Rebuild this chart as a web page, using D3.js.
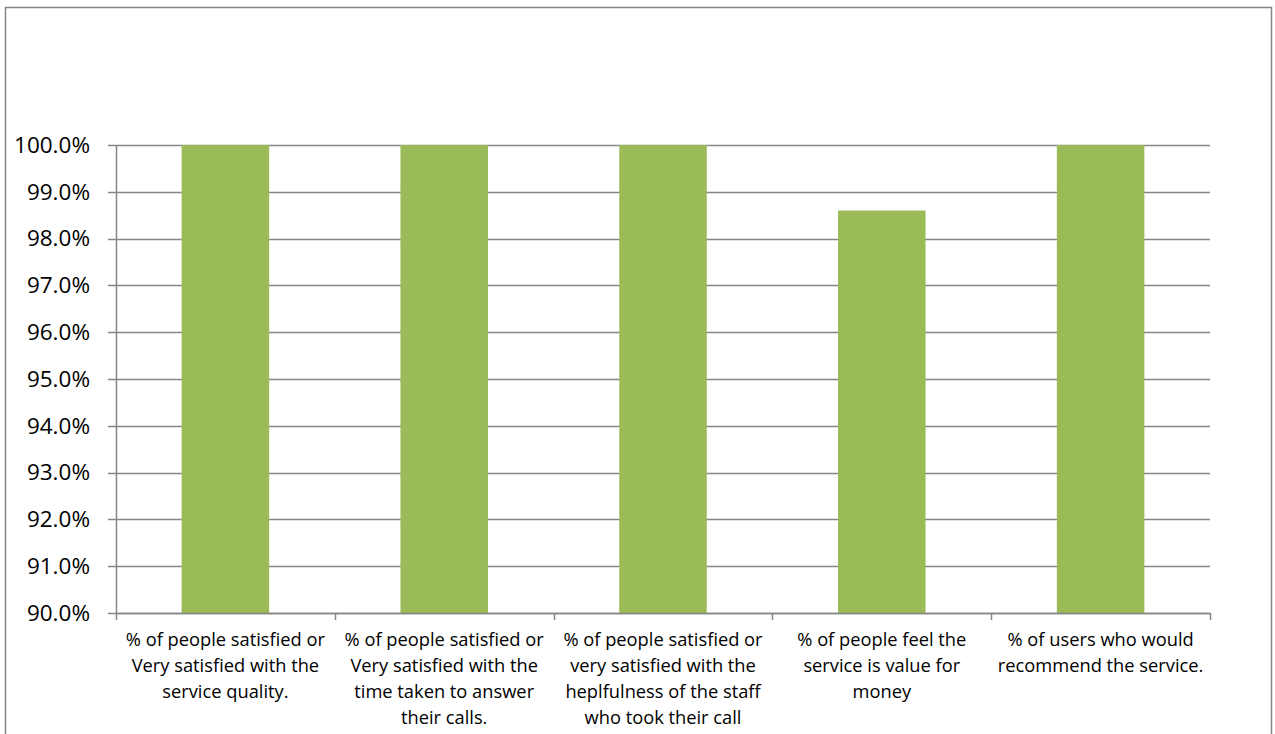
<!DOCTYPE html>
<html>
<head>
<meta charset="utf-8">
<script src="https://cdn.jsdelivr.net/npm/d3@7"></script>
<style>
  html, body { margin: 0; padding: 0; background: #ffffff; }
  svg { display: block; }
  text { font-family: "Open Sans", "DejaVu Sans", sans-serif; fill: #000; }
</style>
</head>
<body>
<svg id="chart" width="1275" height="734"></svg>
<script>
// Survey results: share of respondents per question
const categories = [
  "% of people satisfied or\nVery satisfied with the\nservice quality.",
  "% of people satisfied or\nVery satisfied with the\ntime taken to answer\ntheir calls.",
  "% of people satisfied or\nvery satisfied with the\nheplfulness of the staff\nwho took their call",
  "% of people feel the\nservice is value for\nmoney",
  "% of users who would\nrecommend the service."
];
const values = [1.0, 1.0, 1.0, 0.986, 1.0];
const yTicks = [0.90, 0.91, 0.92, 0.93, 0.94, 0.95, 0.96, 0.97, 0.98, 0.99, 1.00];

const svg = d3.select("#chart");

// outer chart frame
svg.append("rect")
  .attr("x", 5.5).attr("y", 7.5)
  .attr("width", 1266).attr("height", 740)
  .attr("fill", "#fff").attr("stroke", "#868686").attr("stroke-width", 1.5);

const plot = { left: 116, right: 1210, top: 145, bottom: 613 };

const x = d3.scaleBand()
  .domain(d3.range(categories.length))
  .range([plot.left, plot.right])
  .paddingInner(0).paddingOuter(0);

const y = d3.scaleLinear()
  .domain([0.90, 1.00])
  .range([plot.bottom, plot.top]);

const gridColor = "#868686";

// horizontal gridlines
svg.append("g")
  .selectAll("line")
  .data(yTicks)
  .join("line")
  .attr("x1", plot.left - 8).attr("x2", plot.right)
  .attr("y1", d => Math.round(y(d)) + 0.5).attr("y2", d => Math.round(y(d)) + 0.5)
  .attr("stroke", gridColor).attr("stroke-width", 1.5);

// y axis labels
const yAxis = d3.axisLeft(y)
  .tickValues(yTicks)
  .tickFormat(d3.format(".1%"))
  .tickSize(0)
  .tickPadding(26);
const gy = svg.append("g")
  .attr("transform", `translate(${plot.left},0)`)
  .call(yAxis);
gy.select(".domain").remove();
gy.selectAll("text")
  .style("font-family", "'Open Sans', sans-serif")
  .attr("font-size", 22.5)
  .attr("fill", "#000");

// bars
const barW = x.bandwidth() * 0.4;
svg.append("g")
  .selectAll("rect")
  .data(values)
  .join("rect")
  .attr("x", (d, i) => x(i) + (x.bandwidth() - barW) / 2)
  .attr("width", barW)
  .attr("y", d => y(d))
  .attr("height", d => y(0.90) - y(d))
  .attr("fill", "#9BBB59");

// vertical axis line
svg.append("line")
  .attr("x1", plot.left + 0.5).attr("x2", plot.left + 0.5)
  .attr("y1", plot.top).attr("y2", plot.bottom)
  .attr("stroke", gridColor).attr("stroke-width", 1.5);

// category axis with boundary ticks
svg.append("line")
  .attr("x1", plot.left).attr("x2", plot.right)
  .attr("y1", plot.bottom + 0.5).attr("y2", plot.bottom + 0.5)
  .attr("stroke", gridColor).attr("stroke-width", 1.5);

const bounds = d3.range(categories.length + 1).map(i =>
  i < categories.length ? x(i) : plot.right);
svg.append("g")
  .selectAll("line")
  .data(bounds)
  .join("line")
  .attr("x1", d => Math.round(d) + 0.5).attr("x2", d => Math.round(d) + 0.5)
  .attr("y1", plot.bottom).attr("y2", plot.bottom + 7)
  .attr("stroke", gridColor).attr("stroke-width", 1.5);

// category labels, multi-line, centred under each bar
const labels = svg.append("g")
  .selectAll("text")
  .data(categories)
  .join("text")
  .attr("text-anchor", "middle")
  .attr("font-size", 18.3)
  .attr("x", (d, i) => x(i) + x.bandwidth() / 2)
  .attr("y", 646);
labels.each(function(d, i) {
  const t = d3.select(this);
  d.split("\n").forEach((line, k) => {
    t.append("tspan")
      .attr("x", x(i) + x.bandwidth() / 2)
      .attr("dy", k === 0 ? 0 : 26)
      .text(line);
  });
});
</script>
</body>
</html>
